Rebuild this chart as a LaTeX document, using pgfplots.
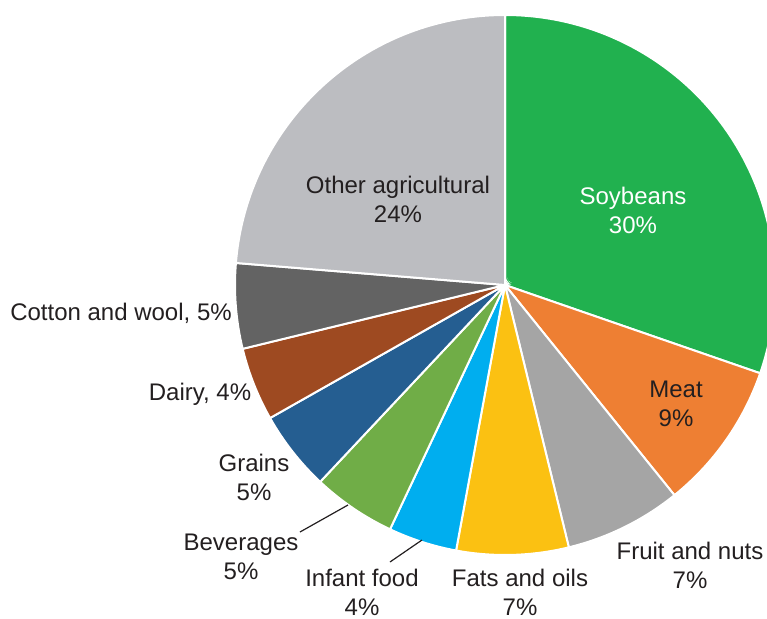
\documentclass[border=0pt]{standalone}
\usepackage{pgfplots}
\usepackage{pgfplotstable}
\pgfplotsset{compat=1.18}
\usepackage{fontspec}
\setmainfont{Liberation Sans}

\definecolor{soy}{HTML}{21B14F}
\definecolor{meat}{HTML}{EE7F33}
\definecolor{fruit}{HTML}{A5A5A5}
\definecolor{fats}{HTML}{FBC112}
\definecolor{infant}{HTML}{00AEEF}
\definecolor{bev}{HTML}{70AD47}
\definecolor{grain}{HTML}{255E91}
\definecolor{dairy}{HTML}{9E4A21}
\definecolor{cotton}{HTML}{636363}
\definecolor{other}{HTML}{BCBDC1}
\definecolor{txt}{HTML}{231F20}

\tikzset{lbl/.style={text=txt, align=center, inner sep=0pt,
  font=\fontsize{12}{14.5}\selectfont}}

% shares in percent, clockwise from 12 o'clock
\pgfplotstableread{
share colour
30.3 soy
8.9  meat
7.0  fruit
6.7  fats
4.1  infant
5.0  bev
4.8  grain
4.4  dairy
5.1  cotton
23.7 other
}\slices

\begin{document}
\begin{tikzpicture}
\begin{axis}[
    hide axis,
    scale only axis,
    x=0.5pt, y=0.5pt,
    xmin=0, xmax=767, ymin=0, ymax=618,
    clip=false,
]
\pgfplotsextra{
  \gdef\startang{90}
  \pgfplotstablegetrowsof{\slices}
  \pgfmathtruncatemacro\last{\pgfplotsretval-1}
  \foreach \i in {0,...,\last}{
    \pgfplotstablegetelem{\i}{share}\of\slices \let\share\pgfplotsretval
    \pgfplotstablegetelem{\i}{colour}\of\slices \let\col\pgfplotsretval
    \pgfmathsetmacro\endang{\startang-3.6*\share}
    \fill[fill=\col, draw=white, line width=1pt]
      (axis cs:505,333) -- ++(\startang:135pt)
      arc[start angle=\startang, end angle=\endang, radius=135pt] -- cycle;
    \xdef\startang{\endang}
  }
}
% leader lines
\draw[txt, line width=0.6pt] (axis cs:300,86) -- (axis cs:348,113);
\draw[txt, line width=0.6pt] (axis cs:390,56) -- (axis cs:422,78);

\node[lbl] at (axis cs:398,419) {Other agricultural\\24\%};
\node[lbl, text=white] at (axis cs:633,408) {Soybeans\\30\%};
\node[lbl] at (axis cs:676,214) {Meat\\9\%};
\node[lbl] at (axis cs:690,53) {Fruit and nuts\\7\%};
\node[lbl] at (axis cs:520,26) {Fats and oils\\7\%};
\node[lbl] at (axis cs:362,26) {Infant food\\4\%};
\node[lbl] at (axis cs:241,61) {Beverages\\5\%};
\node[lbl] at (axis cs:254,141) {Grains\\5\%};
\node[lbl] at (axis cs:200,224) {Dairy, 4\%};
\node[lbl] at (axis cs:121,305) {Cotton and wool, 5\%};
\end{axis}
\pgfresetboundingbox
\path (current axis.south west) rectangle (current axis.north east);
\end{tikzpicture}
\end{document}
